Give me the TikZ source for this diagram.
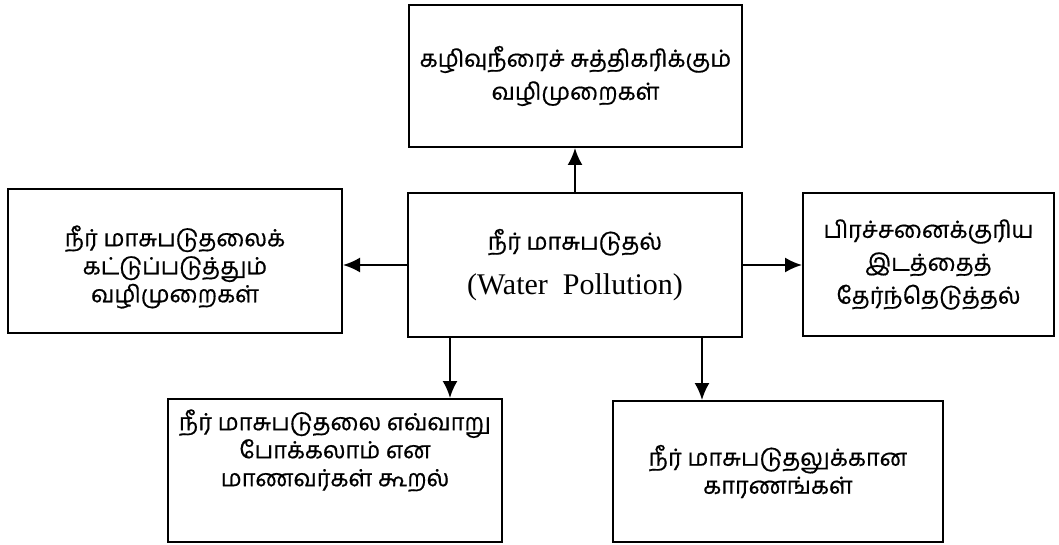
\documentclass[tikz,border=0pt]{standalone}
\usepackage{fontspec}
\setmainfont{Liberation Serif}
\newfontfamily\tamil[Script=Tamil,FakeBold=0.6]{Hind Madurai}
\usetikzlibrary{arrows.meta}
\begin{document}
\begin{tikzpicture}[x=1pt,y=-1pt,
  box/.style={draw=black, line width=2pt, rectangle, align=center, inner sep=0pt,
    font=\tamil\fontsize{23.5}{29}\selectfont},
  txt/.style={align=center, inner sep=0pt, font=\tamil\fontsize{23.5}{28}\selectfont},
  conn/.style={line width=2pt, -{Latex[length=17pt,width=15pt]}}]
\useasboundingbox (0,0) rectangle (1059,545);
\node[box, minimum width=333pt, minimum height=142pt, font=\tamil\fontsize{23.5}{33}\selectfont] (top) at (575.5,76) {கழிவுநீரைச் சுத்திகரிக்கும்\\வழிமுறைகள்};
\node[box, minimum width=334pt, minimum height=144pt] (left) at (175,261) {};
\node[txt] (leftt) at ([yshift=-6pt]left.center) {நீர் மாசுபடுதலைக்\\கட்டுப்படுத்தும்\\வழிமுறைகள்};
\node[box, minimum width=334pt, minimum height=144pt, font=\tamil\fontsize{23.5}{45}\selectfont] (center) at (575,265) {நீர் மாசுபடுதல்\\{\rmfamily\fontsize{30}{45}\selectfont (Water\ \ Pollution)}};
\node[box, minimum width=251pt, minimum height=143pt, font=\tamil\fontsize{23.5}{33}\selectfont] (right) at (928.5,264.5) {பிரச்சனைக்குரிய\\இடத்தைத்\\தேர்ந்தெடுத்தல்};
\node[box, minimum width=334pt, minimum height=143pt] (bl) at (335,470.5) {};
\node[txt] (blt) at ([yshift=20pt]bl.center) {நீர் மாசுபடுதலை எவ்வாறு\\போக்கலாம் என\\மாணவர்கள் கூறல்};
\node[box, minimum width=330pt, minimum height=141pt, font=\tamil\fontsize{23.5}{28}\selectfont] (br) at (778,471.5) {நீர் மாசுபடுதலுக்கான\\காரணங்கள்};
\coordinate (s1) at ([xshift=-125pt]center.south);
\coordinate (s2) at ([xshift=127pt]center.south);
\draw[conn] (center.north) -- (center.north |- top.south);
\draw[conn] (center.west) -- (left.east |- center.west);
\draw[conn] (center.east) -- (right.west |- center.east);
\draw[conn] (s1) -- (s1 |- bl.north);
\draw[conn] (s2) -- (s2 |- br.north);
\end{tikzpicture}
\end{document}
